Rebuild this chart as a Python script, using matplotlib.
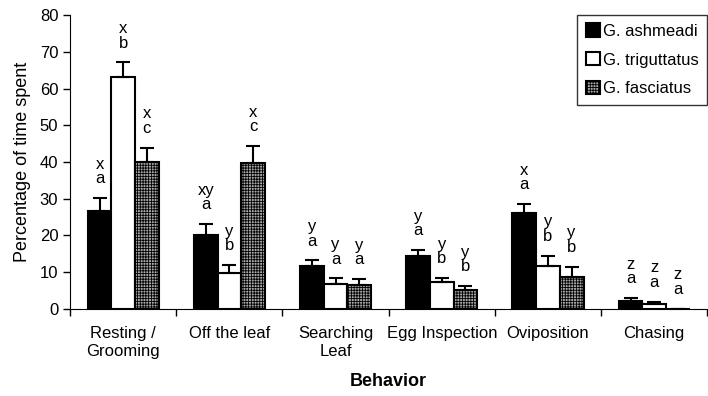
import matplotlib
matplotlib.use('Agg')
import matplotlib.pyplot as plt
import numpy as np

# --- data ---
behaviors = ["Resting /\nGrooming", "Off the leaf", "Searching\nLeaf",
             "Egg Inspection", "Oviposition", "Chasing"]
species = ["G. ashmeadi", "G. triguttatus", "G. fasciatus"]

ashmeadi = [26.7, 20.0, 11.6, 14.3, 26.0, 2.1]
triguttatus = [63.0, 9.8, 6.9, 7.2, 11.7, 1.3]
fasciatus = [39.9, 39.6, 6.6, 5.1, 8.7, 0.1]

ashmeadi_err = [3.5, 3.1, 1.6, 1.7, 2.6, 0.8]
triguttatus_err = [4.1, 2.2, 1.4, 1.2, 2.8, 0.7]
fasciatus_err = [4.0, 4.7, 1.5, 1.2, 2.8, 0.0]

ashmeadi_lab = ["x\na", "xy\na", "y\na", "y\na", "x\na", "z\na"]
triguttatus_lab = ["x\nb", "y\nb", "y\na", "y\nb", "y\nb", "z\na"]
fasciatus_lab = ["x\nc", "x\nc", "y\na", "y\nb", "y\nb", "z\na"]

plt.rcParams['font.family'] = ['Liberation Sans', 'DejaVu Sans']
plt.rcParams['hatch.linewidth'] = 0.6

fig, ax = plt.subplots(figsize=(7.08, 3.96), dpi=100)
fig.subplots_adjust(left=0.099, right=0.999, top=0.962, bottom=0.22)

x = np.arange(len(behaviors))
w = 0.223
series = [
    (ashmeadi, ashmeadi_err, ashmeadi_lab, dict(facecolor="black")),
    (triguttatus, triguttatus_err, triguttatus_lab, dict(facecolor="white")),
    (fasciatus, fasciatus_err, fasciatus_lab, dict(facecolor="#a8a8a8", hatch="++++++")),
]

for i, (vals, errs, labs, style) in enumerate(series):
    pos = x + (i - 1) * w
    ax.bar(pos, vals, w, edgecolor="black", linewidth=1.5, label=species[i],
           zorder=2, **style)
    ax.errorbar(pos, vals, yerr=[np.zeros(len(errs)), errs], fmt="none",
                ecolor="black", elinewidth=1.5, capsize=5, capthick=1.5, zorder=3)
    for p, v, e, t in zip(pos, vals, errs, labs):
        ax.annotate(t, (p, v + e), xytext=(0, 8.5), textcoords="offset points",
                    ha="center", va="bottom", fontsize=12, linespacing=0.95)

ax.set_xlim(-0.5, len(behaviors) - 0.5)
ax.set_ylim(0, 80)
ax.set_yticks(range(0, 81, 10))
ax.set_xticks(x)
ax.set_xticklabels(behaviors, fontsize=12, linespacing=1.3)
ax.set_xticks(np.arange(-0.5, len(behaviors)), minor=True)
ax.tick_params(axis="x", which="major", length=0, pad=12)
ax.tick_params(axis="x", which="minor", length=5, width=1)
ax.tick_params(axis="y", labelsize=12, length=5, width=1)
ax.spines["top"].set_visible(False)
ax.spines["right"].set_visible(False)

ax.set_ylabel("Percentage of time spent", fontsize=13, labelpad=6)
ax.set_xlabel("Behavior", fontsize=13, fontweight="bold", labelpad=10)

leg = ax.legend(loc="upper right", fontsize=12, frameon=True, fancybox=False,
                edgecolor="black", handlelength=0.85, handleheight=0.85,
                handletextpad=0.2, borderpad=0.5, labelspacing=0.8,
                borderaxespad=0.0, bbox_to_anchor=(1.0, 1.0))
leg.get_frame().set_linewidth(1.0)

plt.savefig("out.png", dpi=100)
plt.close()
